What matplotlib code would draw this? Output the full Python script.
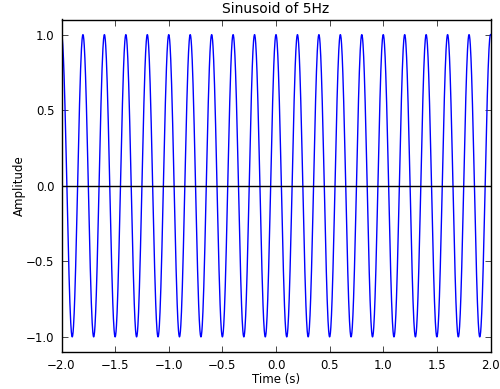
import numpy as np
import matplotlib as mpl
mpl.use('Agg')
import matplotlib.pyplot as plt

# signal parameters
freq = 5          # Hz, from the title
t_start = -2.0
t_end = 2.0
n_samples = 2000
amplitude = 1.0

t = np.linspace(t_start, t_end, n_samples)
y = amplitude * np.cos(2 * np.pi * freq * t)

xticks = [-2.0, -1.5, -1.0, -0.5, 0.0, 0.5, 1.0, 1.5, 2.0]
yticks = [-1.0, -0.5, 0.0, 0.5, 1.0]

mpl.rcParams['font.family'] = 'DejaVu Sans'
mpl.rcParams['font.size'] = 8.5
mpl.rcParams['xtick.direction'] = 'in'
mpl.rcParams['ytick.direction'] = 'in'
mpl.rcParams['xtick.top'] = True
mpl.rcParams['ytick.right'] = True

f = plt.figure(figsize=(5, 3.89), dpi=100)
ax = f.add_axes([61.5 / 500, 1 - 352 / 389, (490.5 - 61.5) / 500, (352 - 19.5) / 389])
ax.plot(t, y, color='b', lw=1)
ax.axhline(0, color='k', lw=1)

ax.set_xlim(t_start, t_end)
ax.set_ylim(-1.1, 1.1)
ax.set_xticks(xticks)
ax.set_yticks(yticks)
ax.tick_params(length=4, width=0.5, pad=5)
for s in ax.spines.values():
    s.set_linewidth(1)
ax.set_xlabel('Time (s)', labelpad=1)
ax.set_ylabel('Amplitude', labelpad=0)
ax.set_title('Sinusoid of 5Hz', fontsize=10, pad=5)

f.savefig('out.png', dpi=100)
